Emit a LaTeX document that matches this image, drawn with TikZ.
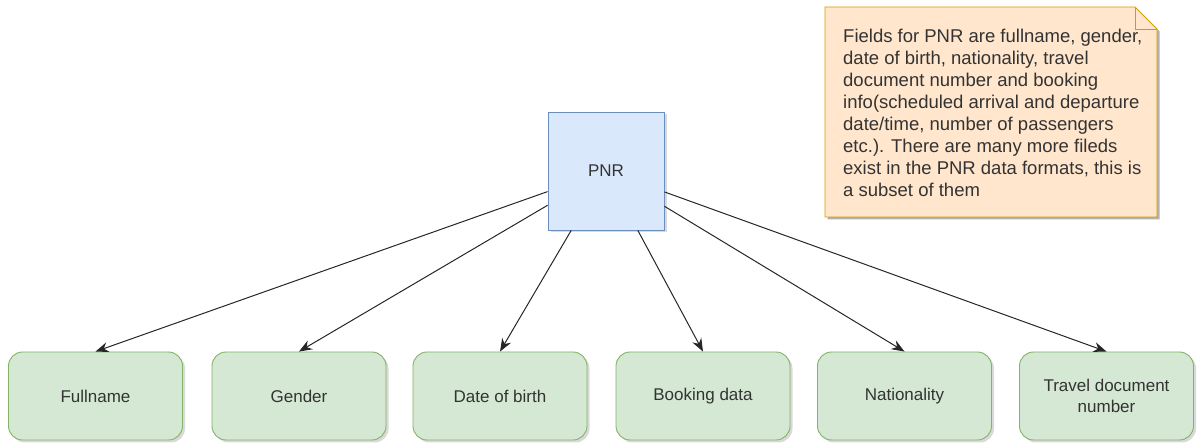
\documentclass[tikz,border=0pt]{standalone}
\usepackage{fontspec}
\setmainfont{Liberation Sans}
\usetikzlibrary{shadows,arrows.meta,shapes.misc}
\definecolor{pnrfill}{HTML}{DAE8FC}
\definecolor{pnrline}{HTML}{6C8EBF}
\definecolor{fieldfill}{HTML}{D5E8D4}
\definecolor{fieldline}{HTML}{82B366}
\definecolor{notefill}{HTML}{FFE6CC}
\definecolor{noteline}{HTML}{D79B00}
\definecolor{txt}{HTML}{333333}
\tikzset{
  softshadow/.style={drop shadow={opacity=0.3, shadow xshift=2.5pt, shadow yshift=-2.5pt}},
  entity/.style={draw=pnrline, fill=pnrfill, line width=0.9pt, minimum width=116pt,
    minimum height=118pt, inner sep=0pt, softshadow, text=txt,
    font=\fontsize{17}{20}\selectfont},
  field/.style={draw=fieldline, fill=fieldfill, line width=0.9pt, rounded corners=14pt,
    minimum width=174pt, minimum height=88pt, inner sep=0pt, softshadow, text=txt,
    align=center, font=\fontsize{17}{20.5}\selectfont},
  link/.style={draw=black!85, line width=1pt, -{Stealth[length=13pt,width=10pt]}}
}
\begin{document}
\begin{tikzpicture}[x=1pt,y=-1pt]
  \useasboundingbox (0,0) rectangle (1203,443);

  % note with folded corner
  \coordinate (n1) at (825,7);
  \coordinate (n2) at (1135,7);
  \coordinate (n3) at (1157,29);
  \coordinate (n4) at (1157,217);
  \coordinate (n5) at (825,217);
  \fill[black, opacity=0.3] ([shift={(2.5,2.5)}]n1) -- ([shift={(2.5,2.5)}]n2) -- ([shift={(2.5,2.5)}]n3)
     -- ([shift={(2.5,2.5)}]n4) -- ([shift={(2.5,2.5)}]n5) -- cycle;
  \draw[draw=noteline, fill=notefill, line width=0.9pt] (n1) -- (n2) -- (n3) -- (n4) -- (n5) -- cycle;
  \draw[draw=noteline, line width=0.9pt] (n2) -- (1135,29) -- (n3);
  \node[anchor=north west, align=left, inner sep=0pt, text=txt,
        font=\fontsize{18.5}{22.1}\selectfont] (note) at (843,28.5)
    {Fields for PNR are fullname, gender,\\
     date of birth, nationality, travel\\
     document number and booking\\
     info(scheduled arrival and departure\\
     date/time, number of passengers\\
     etc.). There are many more fileds\\
     exist in the PNR data formats, this is\\
     a subset of them};

  % central record
  \node[entity] (pnr) at (606,171) {PNR};

  % field boxes
  \node[field] (full) at (95.5,396) {Fullname};
  \node[field] (gender) at (299,396) {Gender};
  \node[field] (dob) at (500,396) {Date of birth};
  \node[field] (book) at (703,396) {Booking data};
  \node[field] (nat) at (904.5,396) {Nationality};
  \node[field] (travel) at (1106.5,396) {Travel document\\number};

  % connectors
  \foreach \t in {full,gender,dob,book,nat,travel}
    \draw[link] (pnr) -- (\t.north);
\end{tikzpicture}
\end{document}
